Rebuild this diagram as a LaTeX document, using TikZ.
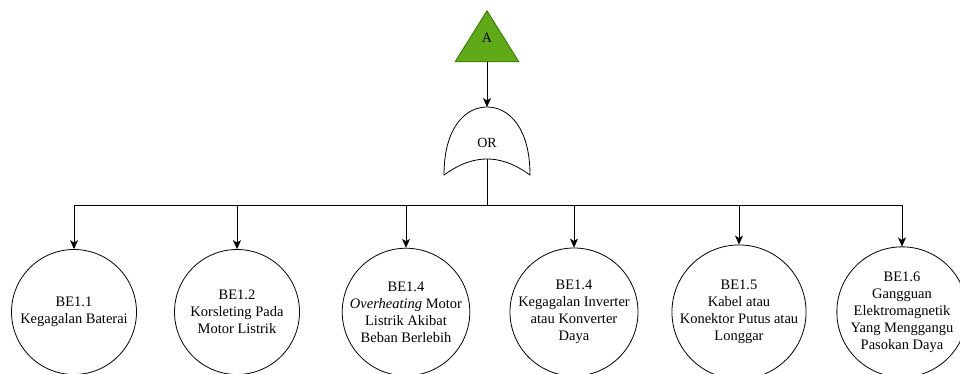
\documentclass[tikz,border=0pt]{standalone}
\usepackage{fontspec}
\setmainfont{Liberation Serif}
\usetikzlibrary{arrows.meta,shapes.geometric}
\definecolor{evfill}{HTML}{60A917}
\definecolor{evline}{HTML}{2D7600}
\begin{document}
\begin{tikzpicture}[x=1pt,y=-1pt,
  wire/.style={line width=0.8pt,draw=black},
  arr/.style={wire,-{Stealth[length=9pt,width=8pt,inset=2.5pt]}},
  basic/.style={circle,draw=black,line width=0.8pt,minimum size=125pt,inner sep=0pt,
    align=center,font=\fontsize{14.5}{17}\selectfont}]
\useasboundingbox (0,0) rectangle (960,373);
\clip (0,0) rectangle (960,373);

% transfer triangle
\node[isosceles triangle,shape border rotate=90,isosceles triangle apex angle=64,
  fill=evfill,draw=evline,line width=0.8pt,minimum height=51pt,inner sep=0pt,
  anchor=apex] (top) at (487,10) {};
\node[font=\fontsize{14}{15}\selectfont] (toplbl) at (487,38) {A};

% OR gate
\coordinate (orL) at (444,175);
\coordinate (orR) at (530,175);
\coordinate (orT) at (487,107);
\coordinate (orB) at (487,159);
\draw[line width=0.8pt,fill=white] (orL) .. controls (444,128) and (465,107) .. (orT)
  .. controls (509,107) and (530,128) .. (orR)
  .. controls (512,162) and (498,159) .. (orB)
  .. controls (476,159) and (462,162) .. (orL) -- cycle;
\node[font=\fontsize{14}{15}\selectfont] (orlbl) at (487,143) {OR};

\draw[arr] (top.south) -- (orT);

% basic events
\node[basic] (e1) at (74,312) {BE1.1\\Kegagalan Baterai};
\node[basic] (e2) at (237,312) {BE1.2\\Korsleting Pada\\Motor Listrik};
\node[basic] (e3) at (406,312) {BE1.4\\\textit{Overheating} Motor\\Listrik Akibat\\Beban Berlebih};
\node[basic] (e4) at (574,312) {BE1.4\\Kegagalan Inverter\\atau Konverter\\Daya};
\node[basic] (e5) at (739,312) {BE1.5\\Kabel atau\\Konektor Putus atau\\Longgar};
\node[basic] (e6) at (902,312) {BE1.6\\Gangguan\\Elektromagnetik\\Yang Menggangu\\Pasokan Daya};

% distribution bus
\coordinate (bus) at (487,205);
\draw[wire] (orB) -- (bus);
\foreach \e in {e1,e2,e3,e4,e5,e6}{
  \draw[arr] (bus) -| (\e.north);
}
\end{tikzpicture}
\end{document}
